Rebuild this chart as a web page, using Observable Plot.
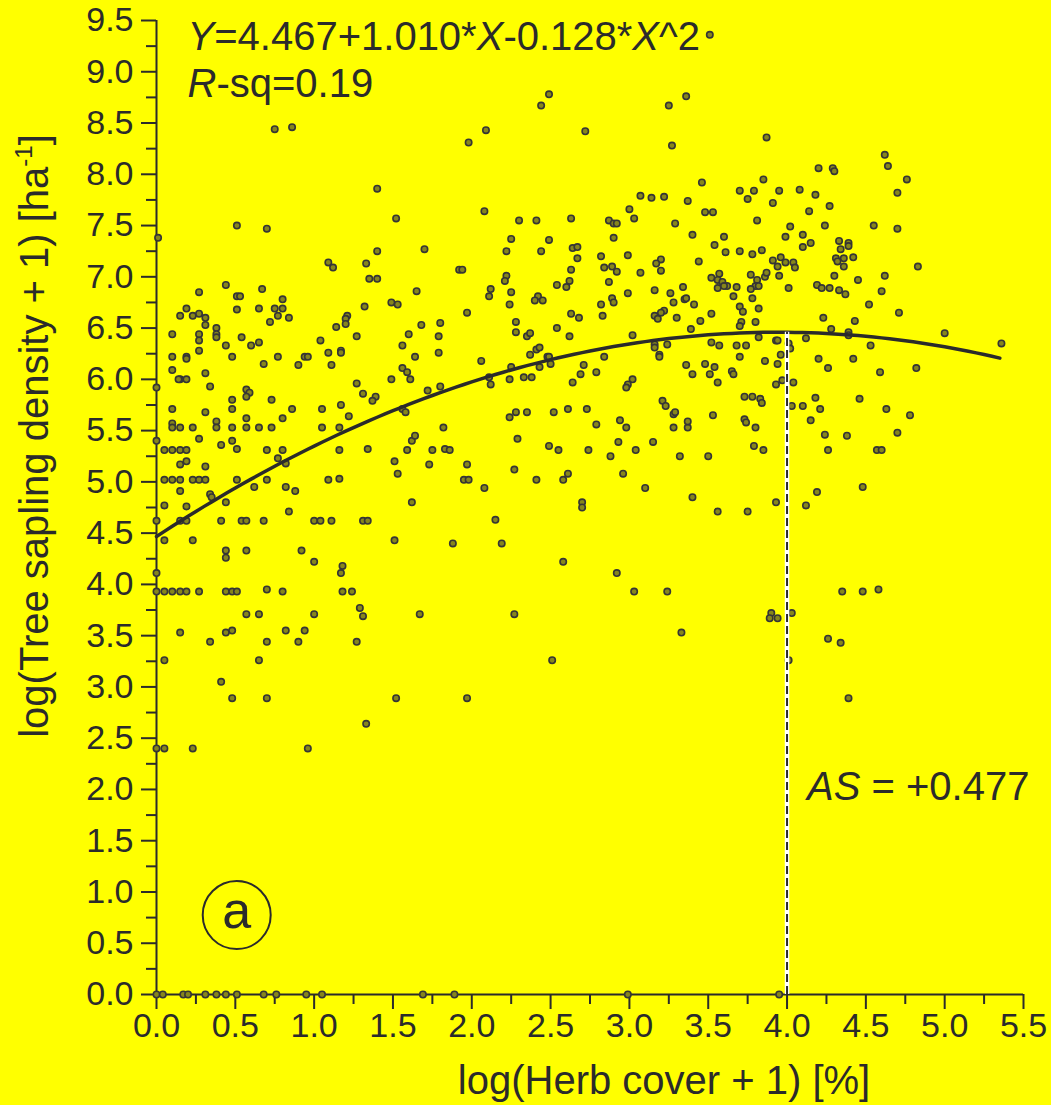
<!DOCTYPE html>
<html>
<head>
<meta charset="utf-8">
<script src="https://cdn.jsdelivr.net/npm/d3@7"></script>
<script src="https://cdn.jsdelivr.net/npm/@observablehq/plot@0.6"></script>
<style>
  html, body { margin: 0; padding: 0; background: #ffff00; }
  #chart svg { display: block; }
</style>
</head>
<body>
<div id="chart"></div>
<script>
// Sites with low herb cover: [log(herb cover + 1), log(sapling density + 1)]
const lowCover = [
  [0.75,8.44],[0.86,8.46],[1.40,7.86],[1.52,7.57],[0.51,7.50],[0.70,7.47],[0.01,7.38],[1.40,7.25],[1.70,7.27],
  [1.09,7.14],[1.12,7.09],[1.33,7.13],[1.35,6.98],[1.40,6.98],[0.44,6.92],[0.27,6.85],[0.67,6.88],[1.65,6.86],
  [0.51,6.81],[0.53,6.81],[0.80,6.78],[1.49,6.75],[1.53,6.73],[1.32,6.71],[0.19,6.69],[0.51,6.68],[0.65,6.69],
  [0.75,6.69],[0.80,6.69],[0.15,6.62],[0.23,6.62],[0.27,6.64],[0.31,6.60],[0.77,6.62],[0.84,6.60],[1.21,6.62],
  [1.20,6.59],[0.72,6.56],[0.31,6.53],[0.38,6.50],[1.20,6.54],[1.68,6.53],[1.14,6.51],
  [0.10,6.44],[0.27,6.44],[0.27,6.38],[0.38,6.44],[0.38,6.41],[0.54,6.41],[0.65,6.36],[0.44,6.33],[0.60,6.33],
  [1.04,6.38],[1.27,6.42],[1.60,6.44],
  [0.10,6.22],[0.19,6.22],[0.19,6.20],[0.27,6.28],[0.48,6.22],[0.77,6.22],[0.94,6.22],[0.96,6.22],[1.09,6.26],
  [1.17,6.28],[1.17,6.26],[1.56,6.33],[1.64,6.22],
  [0.10,6.09],[0.31,6.06],[0.68,6.15],[0.90,6.14],[1.11,6.14],[1.56,6.11],[1.59,6.07],
  [0.15,6.00],[0.14,6.00],[0.19,6.00],[0.34,5.93],[0.00,5.92],[0.57,5.90],[0.59,5.87],[0.57,5.83],[1.27,5.96],
  [1.31,5.86],[1.49,6.00],[1.61,6.00],[1.72,5.89],
  [0.73,5.80],[0.48,5.80],[1.39,5.83],[1.37,5.79],[0.10,5.71],[0.31,5.68],[0.48,5.71],[0.57,5.62],[0.86,5.71],
  [1.05,5.71],[1.17,5.75],[1.22,5.64],[1.56,5.71],[1.58,5.68],
  [0.10,5.57],[0.10,5.53],[0.15,5.53],[0.23,5.53],[0.38,5.59],[0.38,5.53],[0.48,5.53],[0.57,5.53],[0.65,5.53],
  [0.73,5.53],[0.80,5.62],[1.05,5.53],[1.16,5.53],
  [0.00,5.40],[0.27,5.42],[0.41,5.36],[0.48,5.40],[0.51,5.32],[0.05,5.31],[0.10,5.31],[0.15,5.31],[0.19,5.31],
  [0.70,5.31],[0.80,5.31],[1.16,5.31],[1.34,5.32],[1.59,5.31],[1.62,5.40],[1.64,5.45],
  [0.15,5.17],[0.19,5.20],[0.31,5.15],[0.77,5.23],[0.82,5.18],[1.51,5.20],[1.53,5.08],[1.73,5.17],
  [0.05,5.02],[0.10,5.02],[0.15,5.02],[0.23,5.02],[0.27,5.02],[0.31,5.02],[0.51,5.02],[0.70,5.02],[1.09,5.02],
  [1.16,5.03],[0.62,4.95],[0.82,4.95],[0.88,4.91],[0.15,4.91],[0.34,4.88],[0.35,4.85],
  [0.05,4.77],[0.19,4.76],[0.44,4.80],[1.62,4.80],[0.84,4.71],
  [0.00,4.62],[0.15,4.62],[0.19,4.62],[0.41,4.62],[0.54,4.62],[0.57,4.62],[0.68,4.62],[1.00,4.62],[1.04,4.62],
  [1.11,4.62],[1.31,4.62],[1.34,4.62],
  [0.05,4.43],[0.23,4.43],[1.51,4.43],
  [0.44,4.33],[0.44,4.26],[0.57,4.33],[0.92,4.33],[1.00,4.22],[1.17,4.11],[1.18,4.18],[0.00,4.11],
  [0.00,3.93],[0.05,3.93],[0.10,3.93],[0.15,3.93],[0.19,3.93],[0.27,3.93],[0.44,3.93],[0.48,3.93],[0.51,3.93],
  [0.70,3.95],[0.80,3.93],[1.18,3.93],[1.24,3.93],
  [1.29,3.77],[1.31,3.69],[0.57,3.71],[0.65,3.71],[1.00,3.71],[1.67,3.71],
  [0.15,3.53],[0.44,3.53],[0.48,3.55],[0.82,3.55],[0.94,3.55],
  [0.34,3.44],[0.70,3.44],[0.90,3.44],[1.27,3.44],
  [0.05,3.26],[0.65,3.26]
];

// Sites with intermediate herb cover
const midCover = [
  [3.51,9.36],[2.49,8.78],[2.44,8.67],[3.36,8.76],[3.25,8.67],[2.09,8.43],[1.98,8.31],[2.72,8.42],[3.27,8.28],
  [3.46,7.92],[3.07,7.79],[3.14,7.77],[3.22,7.78],[3.37,7.74],[2.08,7.64],[3.00,7.66],[3.48,7.63],[3.53,7.63],
  [2.30,7.55],[2.41,7.55],[2.63,7.57],[2.87,7.55],[2.90,7.52],[2.92,7.52],[3.03,7.57],[3.29,7.52],[2.25,7.37],
  [2.49,7.36],[2.90,7.38],[3.40,7.41],[2.22,7.25],[2.44,7.25],[2.64,7.28],[2.67,7.29],[2.67,7.18],[2.82,7.20],
  [2.99,7.21],[3.54,7.31],[3.20,7.17],[3.17,7.13],[3.44,7.15],[1.92,7.07],[1.94,7.07],[2.22,7.01],[2.21,6.96],
  [2.63,7.07],[2.62,6.96],[2.84,7.09],[2.89,7.10],[2.92,7.05],[2.87,6.95],[3.07,7.04],[3.20,7.06],[3.52,6.99],
  [3.57,7.03],[3.56,6.97],[3.56,6.89],[2.12,6.88],[2.11,6.81],[2.25,6.85],[2.54,6.92],[2.60,6.90],[2.42,6.81],
  [2.40,6.77],[2.45,6.77],[2.24,6.73],[2.82,6.73],[2.89,6.79],[2.90,6.75],[2.99,6.84],[3.16,6.87],[3.26,6.84],
  [3.34,6.90],[3.28,6.75],[3.35,6.78],[3.36,6.79],[3.41,6.73],[1.97,6.65],[2.63,6.64],[2.68,6.60],[2.83,6.62],
  [3.16,6.62],[3.18,6.59],[3.22,6.67],[3.20,6.65],[3.30,6.60],[3.45,6.57],[3.52,6.64],[1.80,6.55],[2.28,6.56],
  [2.54,6.50],[3.39,6.49],
  [1.79,6.42],[2.28,6.46],[2.35,6.42],[2.37,6.45],[2.62,6.42],[3.02,6.43],
  [1.79,6.26],[2.37,6.24],[2.41,6.29],[2.43,6.31],[2.48,6.22],[2.49,6.22],[2.50,6.15],[2.43,6.12],[2.06,6.18],
  [2.84,6.22],[3.16,6.34],[3.16,6.31],[3.19,6.24],[3.19,6.22],[3.24,6.34],[3.52,6.36],[3.57,6.33],
  [2.25,6.12],[2.11,6.02],[2.12,5.95],[2.24,6.00],[2.33,6.02],[2.38,6.02],[2.71,6.14],[2.69,6.05],[2.79,6.07],
  [2.64,5.97],[3.02,6.00],[2.99,5.95],[2.98,5.92],[3.36,6.14],[3.40,6.05],[3.48,6.15],[3.54,6.12],[3.51,6.05],
  [3.56,5.97],[1.80,5.93],
  [3.21,5.79],[3.23,5.74],[3.28,5.66],[3.29,5.68],[2.24,5.63],[2.28,5.68],[2.35,5.68],[2.52,5.68],[2.61,5.71],
  [2.73,5.71],[2.79,5.56],[2.94,5.60],[2.98,5.53],[3.28,5.53],[3.37,5.53],[3.37,5.59],[3.53,5.65],
  [1.82,5.53],[2.29,5.42],[2.49,5.35],[2.55,5.31],[2.74,5.31],[2.93,5.39],[3.04,5.31],[3.15,5.39],[2.88,5.25],
  [3.32,5.25],[3.50,5.25],[1.75,5.31],[1.83,5.32],[1.86,5.31],
  [1.97,5.17],[1.95,5.02],[1.98,5.02],[2.08,4.94],[2.27,5.12],[2.41,5.02],[2.58,5.02],[2.61,5.08],[2.96,5.08],
  [3.10,4.94],[3.40,4.85],[3.56,4.71],[2.70,4.80],[2.70,4.75],
  [2.15,4.63],[1.88,4.40],[2.19,4.40],
  [2.58,4.22],[2.92,4.11],[3.03,3.93],[3.24,3.93],
  [2.27,3.71],[3.33,3.53],[2.51,3.26]
];

// Sites with high herb cover
const highCover = [
  [3.87,8.36],[4.62,8.19],[4.64,8.08],[4.20,8.06],[4.29,8.06],[4.30,8.03],[3.85,7.95],[4.76,7.95],[3.70,7.84],
  [3.79,7.84],[3.95,7.84],[4.08,7.85],[3.75,7.76],[4.18,7.80],[4.70,7.82],[3.91,7.72],[4.27,7.69],[4.14,7.64],
  [3.81,7.55],[4.02,7.49],[4.24,7.50],[4.55,7.50],[4.70,7.47],[3.60,7.39],[3.99,7.39],[4.10,7.41],[4.10,7.29],
  [4.15,7.33],[4.33,7.35],[4.39,7.33],[4.39,7.30],[3.61,7.24],[3.70,7.25],[3.78,7.22],[3.84,7.26],[4.34,7.27],
  [3.91,7.16],[3.96,7.19],[3.94,7.10],[3.99,7.14],[4.04,7.14],[4.05,7.09],[4.31,7.18],[4.32,7.15],[4.36,7.18],
  [4.42,7.19],[4.36,7.10],[4.83,7.10],[3.77,7.02],[3.86,7.00],[3.87,7.04],[3.95,7.01],[4.30,7.01],[4.62,7.01],
  [4.45,6.97],[3.59,6.95],[3.62,6.91],[3.60,6.91],[3.81,6.97],[3.80,6.91],[3.82,6.91],[3.77,6.88],[3.68,6.90],
  [4.01,6.89],[4.19,6.92],[4.22,6.89],[4.27,6.89],[4.33,6.87],[4.37,6.83],[4.60,6.86],[3.66,6.81],[3.78,6.79],
  [3.70,6.71],[3.72,6.66],[3.82,6.69],[4.52,6.73],[4.71,6.65],[4.23,6.60],[4.43,6.57],[3.71,6.56],[3.70,6.52],
  [3.80,6.56],[4.28,6.49],
  [3.82,6.41],[3.93,6.38],[3.94,6.38],[4.12,6.40],[4.39,6.46],[4.39,6.43],[5.00,6.45],
  [3.68,6.33],[3.74,6.33],[4.01,6.35],[4.02,6.30],[4.53,6.33],[5.36,6.35],
  [3.70,6.22],[3.86,6.18],[3.94,6.15],[3.96,6.24],[4.20,6.20],[4.42,6.20],[4.26,6.11],
  [3.65,6.08],[3.66,6.05],[3.93,5.95],[3.97,5.99],[4.04,5.97],[4.59,6.07],[4.82,6.11],
  [3.73,5.83],[3.78,5.83],[3.83,5.81],[3.84,5.77],[4.03,5.74],[4.10,5.74],[4.18,5.82],[4.21,5.71],[4.46,5.81],
  [4.63,5.71],[4.78,5.65],
  [3.73,5.61],[3.74,5.58],[3.80,5.53],[4.15,5.60],[4.24,5.46],[4.38,5.45],[4.70,5.48],
  [3.79,5.35],[3.85,5.31],[4.26,5.31],[4.57,5.31],[4.60,5.31],
  [4.19,4.90],[4.48,4.95],[3.93,4.80],[4.12,4.77],[3.75,4.71],
  [4.35,3.93],[4.48,3.93],[4.58,3.95],
  [3.90,3.72],[3.89,3.67],[3.94,3.67],[4.03,3.72],
  [4.26,3.47],[4.34,3.43],[4.01,3.26]
];

// Sparse sites with very low sapling density
const sparseLow = [
  [0.41,3.05],[0.48,2.89],[0.70,2.89],[1.52,2.89],[1.97,2.89],[4.39,2.89],[1.33,2.64],
  [0.00,2.40],[0.05,2.40],[0.23,2.40],[0.96,2.40]
];

// Herb cover of sites without any saplings (density = 0)
const zeroDensityCover = [0.00,0.04,0.17,0.20,0.31,0.38,0.44,0.51,0.68,0.76,0.95,1.05,1.69,1.89,2.99,3.95];

// Quadratic fit: Y = b0 + b1*X + b2*X^2
const fitCoef = [4.467, 1.010, -0.128];
const fitRange = [0, 5.35];
const rSquared = 0.19;
const asLabel = "+0.477";
const peakCover = 4.0;

// Tick values
const yMajor = d3.range(0, 20).map(i => i * 0.5);
const yMinor = d3.range(0, 19).map(i => i * 0.5 + 0.25);
const xMajor = d3.range(0, 12).map(i => i * 0.5);
const xMinor = d3.range(0, 11).map(i => i * 0.5 + 0.25);

const ink = "#2b2b2b";
const font = "'Liberation Sans', Arial, Helvetica, sans-serif";

const fit = x => fitCoef[0] + fitCoef[1] * x + fitCoef[2] * x * x;
const points = [
  ...lowCover, ...midCover, ...highCover, ...sparseLow,
  ...zeroDensityCover.map(x => [x, 0])
];
const fitCurve = d3.range(0, 108).map(i => Math.min(fitRange[1], i * 0.05)).map(x => [x, fit(x)]);

const chart = Plot.plot({
  width: 1051,
  height: 1105,
  marginLeft: 156,
  marginRight: 28,
  marginTop: 20,
  marginBottom: 111,
  style: { background: "#ffff00", fontFamily: font, color: ink, overflow: "visible" },
  x: { domain: [0, 5.5] },
  y: { domain: [0, 9.5] },
  marks: [
    Plot.axisY(yMinor, { tickSize: 10, tickFormat: () => "", strokeWidth: 2, label: null }),
    Plot.axisY(yMajor, { tickSize: 15, tickPadding: 8, tickFormat: d3.format(".1f"), fontSize: 34, strokeWidth: 2, label: null }),
    Plot.axisX(xMinor, { tickSize: 10, tickFormat: () => "", strokeWidth: 2, label: null }),
    Plot.axisX(xMajor, { tickSize: 15, tickPadding: 3, tickFormat: d3.format(".1f"), fontSize: 34, strokeWidth: 2, label: null }),
    Plot.ruleX([0], { stroke: ink, strokeWidth: 2 }),
    Plot.ruleY([0], { stroke: ink, strokeWidth: 2 }),
    Plot.dot(points, { x: d => d[0], y: d => d[1], r: 3.2, fill: "#86861c", stroke: "#353535", strokeWidth: 1.6 }),
    Plot.line(fitCurve, { x: d => d[0], y: d => d[1], stroke: ink, strokeWidth: 3.5 }),
    Plot.ruleX([peakCover], { y1: 0, y2: fit(peakCover), stroke: "#ffffff", strokeWidth: 4.5 }),
    Plot.ruleX([peakCover], { y1: 0, y2: fit(peakCover), stroke: ink, strokeWidth: 2, strokeDasharray: "8,4" })
  ]
});

document.getElementById("chart").appendChild(chart);

// Annotations placed through the plot's own scales
const sx = chart.scale("x"), sy = chart.scale("y");
const svg = d3.select(chart);
const g = svg.append("g").attr("font-family", font).attr("fill", ink).attr("text-anchor", "start");

// Fitted equation and R-squared
const eq = g.append("text").attr("x", sx.apply(0.2)).attr("y", sy.apply(9.21)).attr("font-size", 40);
eq.append("tspan").attr("font-style", "italic").text("Y");
eq.append("tspan").text(`=${fitCoef[0].toFixed(3)}+${fitCoef[1].toFixed(3)}*`);
eq.append("tspan").attr("font-style", "italic").text("X");
eq.append("tspan").text(`-${Math.abs(fitCoef[2]).toFixed(3)}*`);
eq.append("tspan").attr("font-style", "italic").text("X");
eq.append("tspan").text("^2");

const rs = g.append("text").attr("x", sx.apply(0.2)).attr("y", sy.apply(8.75)).attr("font-size", 40);
rs.append("tspan").attr("font-style", "italic").text("R");
rs.append("tspan").text(`-sq=${rSquared.toFixed(2)}`);

// AS annotation beside the dashed line
const as = g.append("text").attr("x", sx.apply(4.13)).attr("y", sy.apply(1.89)).attr("font-size", 40);
as.append("tspan").attr("font-style", "italic").text("AS");
as.append("tspan").text(` = ${asLabel}`);

// Panel letter
const panelX = 0.512, panelY = 0.77;
g.append("circle").attr("cx", sx.apply(panelX)).attr("cy", sy.apply(panelY)).attr("r", 34)
  .attr("fill", "none").attr("stroke", ink).attr("stroke-width", 2);
g.append("text").attr("x", sx.apply(panelX)).attr("y", sy.apply(panelY) + 13).attr("font-size", 52)
  .attr("text-anchor", "middle").text("a");

// Axis titles
g.append("text").attr("x", 664).attr("y", 1094).attr("font-size", 40).attr("text-anchor", "middle")
  .text("log(Herb cover + 1) [%]");

const yt = g.append("text").attr("transform", "translate(48,436) rotate(-90)")
  .attr("font-size", 40).attr("text-anchor", "middle");
yt.append("tspan").text("log(Tree sapling density + 1) [ha");
yt.append("tspan").attr("font-size", 24).attr("dy", -16).text("-1");
yt.append("tspan").attr("dy", 16).text("]");
</script>
</body>
</html>
